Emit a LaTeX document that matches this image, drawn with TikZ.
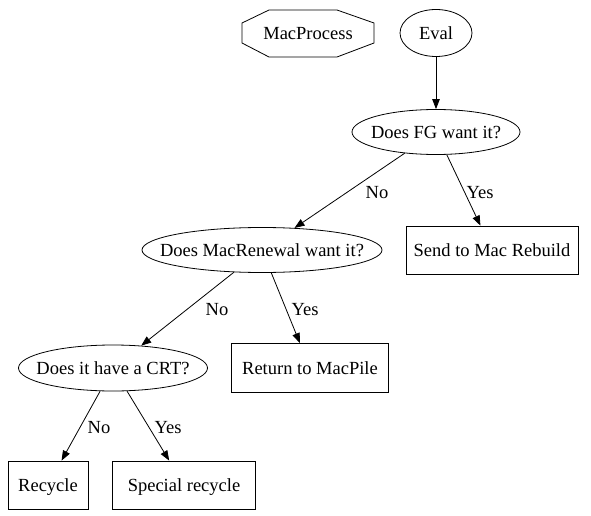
\documentclass[tikz,border=0pt]{standalone}
\usepackage{fontspec}
\setmainfont{Liberation Serif}
\usetikzlibrary{shapes.geometric,arrows.meta}
\begin{document}
\begin{tikzpicture}[x=1pt,y=-1pt,
  every node/.style={font=\fontsize{18.5}{20}\selectfont, inner sep=0pt, text height=12.2pt, text depth=0pt},
  ell/.style={draw, ellipse, line width=0.8pt, inner sep=0pt},
  box/.style={draw, rectangle, line width=0.8pt},
  lbl/.style={},
  edge/.style={draw, line width=0.8pt, -{Triangle[length=10pt,width=7.5pt]}},
  oct/.style={draw, line width=0.8pt}]
\useasboundingbox (0,0) rectangle (591,516);
\node (mp) at (308,33) {MacProcess};
\draw[oct] (242,23) -- (269,10) -- (337,10) -- (374,23) -- (374,43) -- (337,57) -- (269,57) -- (242,43) -- cycle;
\node[ell, minimum width=72pt, minimum height=47pt] (eval) at (436,33) {};
\node (evalt) at (eval) {Eval};
\node[ell, minimum width=168pt, minimum height=45pt] (fg) at (436,132) {};
\node (fgt) at (fg) {Does FG want it?};
\node[box, minimum width=172pt, minimum height=48pt] (send) at (492,250) {Send to Mac Rebuild};
\node[ell, minimum width=240pt, minimum height=45pt] (mr) at (262,250) {};
\node (mrt) at (mr) {Does MacRenewal want it?};
\node[box, minimum width=157pt, minimum height=49pt] (ret) at (310,368) {Return to MacPile};
\node[ell, minimum width=189pt, minimum height=46pt] (crt) at (113,368) {};
\node (crtt) at (crt) {Does it have a CRT?};
\node[box, minimum width=80pt, minimum height=48pt] (rec) at (48,485) {Recycle};
\node[box, minimum width=143pt, minimum height=48pt] (spec) at (184,485) {Special recycle};
\draw[edge] (eval) -- (fg);
\draw[edge] (fg) -- (mr);
\draw[edge] (fg) -- (send);
\draw[edge] (mr) -- (crt);
\draw[edge] (mr) -- (ret);
\draw[edge] (crt) -- (rec);
\draw[edge] (crt) -- (spec);
\node[lbl] (l1) at (377,192) {No};
\node[lbl] (l2) at (480,192) {Yes};
\node[lbl] (l3) at (217,309) {No};
\node[lbl] (l4) at (305,309) {Yes};
\node[lbl] (l5) at (99,427) {No};
\node[lbl] (l6) at (168,427) {Yes};
\end{tikzpicture}
\end{document}
